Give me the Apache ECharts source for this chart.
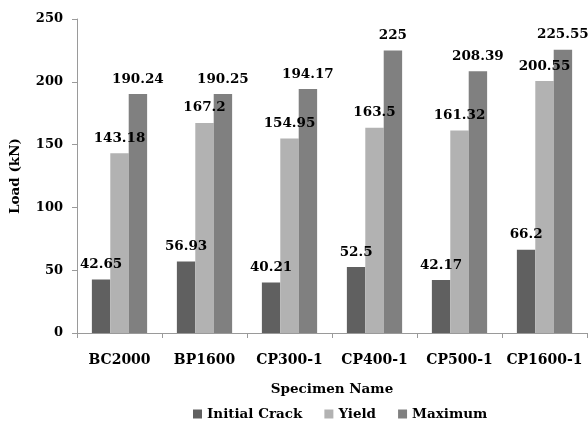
<!DOCTYPE html>
<html>
<head>
<meta charset="utf-8">
<script src="https://cdn.jsdelivr.net/npm/echarts@6/dist/echarts.min.js"></script>
<style>
  html, body { margin: 0; padding: 0; background: #fff; }
  #chart { width: 588px; height: 424px; }
</style>
</head>
<body>
<div id="chart"></div>
<script>
// Specimens and measured loads (kN)
const specimens = ['BC2000', 'BP1600', 'CP300-1', 'CP400-1', 'CP500-1', 'CP1600-1'];
const initialCrack = [42.65, 56.93, 40.21, 52.5, 42.17, 66.2];
const yieldLoad = [143.18, 167.2, 154.95, 163.5, 161.32, 200.55];
const maximumLoad = [190.24, 190.25, 194.17, 225, 208.39, 225.55];
const yTicks = [0, 50, 100, 150, 200, 250];

const FONT = 'DejaVu Serif';
const axisGray = '#9a9a9a';

function barSeries(name, data, color) {
  return {
    name: name,
    type: 'bar',
    data: data,
    barGap: '0%',
    barCategoryGap: '35%',
    itemStyle: { color: color },
    label: {
      show: true,
      position: 'top',
      distance: 8,
      color: '#000',
      fontFamily: FONT,
      fontWeight: 'bold',
      fontSize: 13.5,
      formatter: p => String(p.value)
    }
  };
}

const chart = echarts.init(document.getElementById('chart'), null, { renderer: 'canvas' });
chart.setOption({
  animation: false,
  backgroundColor: '#fff',
  grid: { left: 73, right: 1, top: 19, bottom: 91, containLabel: false },
  legend: {
    bottom: 3,
    left: 193,
    padding: 0,
    itemWidth: 9,
    itemHeight: 9,
    itemGap: 22,
    icon: 'rect',
    textStyle: { fontFamily: FONT, fontWeight: 'bold', fontSize: 13.5, color: '#000', padding: [0, 0, 0, 0] },
    data: ['Initial Crack', 'Yield', 'Maximum']
  },
  xAxis: {
    type: 'category',
    data: specimens,
    name: 'Specimen Name',
    nameLocation: 'middle',
    nameGap: 49,
    nameTextStyle: { fontFamily: FONT, fontWeight: 'bold', fontSize: 13.5, color: '#000' },
    axisLine: { lineStyle: { color: axisGray, width: 1 } },
    axisTick: { show: true, length: 5, lineStyle: { color: axisGray } },
    axisLabel: {
      margin: 20,
      fontFamily: FONT, fontWeight: 'bold', fontSize: 14, color: '#000', interval: 0
    },
    splitLine: { show: false }
  },
  yAxis: {
    type: 'value',
    min: yTicks[0],
    max: yTicks[yTicks.length - 1],
    interval: yTicks[1] - yTicks[0],
    name: 'Load (kN)',
    nameLocation: 'middle',
    nameGap: 55,
    nameTextStyle: { fontFamily: FONT, fontWeight: 'bold', fontSize: 13.5, color: '#000' },
    axisLine: { show: true, lineStyle: { color: axisGray, width: 1 } },
    axisTick: { show: true, length: 5, lineStyle: { color: axisGray } },
    axisLabel: {
      margin: 14,
      fontFamily: FONT, fontWeight: 'bold', fontSize: 13, color: '#000'
    },
    splitLine: { show: false }
  },
  series: [
    barSeries('Initial Crack', initialCrack, '#606060'),
    barSeries('Yield', yieldLoad, '#b2b2b2'),
    barSeries('Maximum', maximumLoad, '#808080')
  ]
});
</script>
</body>
</html>
